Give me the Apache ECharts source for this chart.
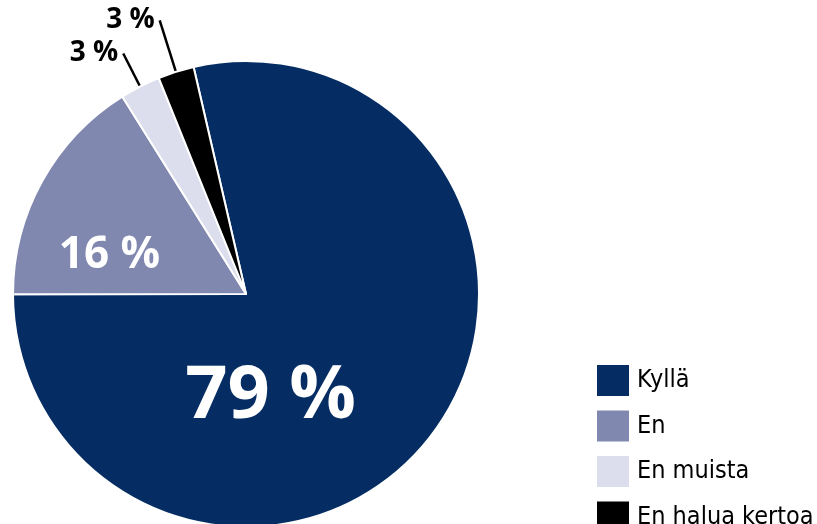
<!DOCTYPE html>
<html>
<head>
<meta charset="utf-8">
<script src="https://cdn.jsdelivr.net/npm/echarts@6/dist/echarts.min.js"></script>
<style>
  html, body { margin: 0; padding: 0; background: #fff; }
  #chart { width: 817px; height: 524px; }
</style>
</head>
<body>
<div id="chart"></div>
<script>
var dom = document.getElementById('chart');
var myChart = echarts.init(dom, null, { renderer: 'canvas' });

// answers and shares (%)
var categories = ['Kyllä', 'En', 'En muista', 'En halua kertoa'];
var shares = [78.6, 16.1, 2.8, 2.5];
var colors = ['#052d63', '#8188b0', '#dcdeed', '#000000'];

var pieData = categories.map(function (name, i) {
  var item = { name: name, value: shares[i], itemStyle: { color: colors[i] } };
  if (i === 0) {
    item.label = { position: 'inside', fontSize: 74, color: '#fff', offset: [-69, 29] };
  } else if (i === 1) {
    item.label = { position: 'inside', fontSize: 44, color: '#fff', offset: [-32, 19] };
  } else if (i === 2) {
    item.labelLine = { length: 37, length2: 0 };
  } else {
    item.labelLine = { length: 54, length2: 0 };
  }
  return item;
});

var option = {
  animation: false,
  legend: {
    orient: 'vertical',
    left: 595,
    top: 363,
    height: 200,
    padding: 0,
    icon: 'rect',
    itemWidth: 34,
    itemHeight: 33,
    itemGap: 10.5,
    selectedMode: false,
    textStyle: {
      fontFamily: '"Liberation Sans Narrow", "DejaVu Sans Condensed", sans-serif',
      fontSize: 25,
      color: '#000',
      padding: [0, 0, 0, 2]
    },
    data: categories
  },
  series: [
    {
      type: 'pie',
      center: [246, 294],
      radius: 233,
      startAngle: 103,
      clockwise: true,
      avoidLabelOverlap: false,
      itemStyle: { borderColor: '#fff', borderWidth: 2 },
      label: {
        position: 'outside',
        fontFamily: '"Open Sans", sans-serif',
        fontWeight: 'bold',
        fontSize: 28,
        color: '#000',
        formatter: function (p) {
          return Math.round(p.value) + ' %';
        }
      },
      labelLine: {
        show: true,
        lineStyle: { color: '#000', width: 2.5 }
      },
      emphasis: { disabled: true },
      data: pieData
    }
  ]
};

myChart.setOption(option);
window.addEventListener('resize', myChart.resize);
</script>
</body>
</html>
